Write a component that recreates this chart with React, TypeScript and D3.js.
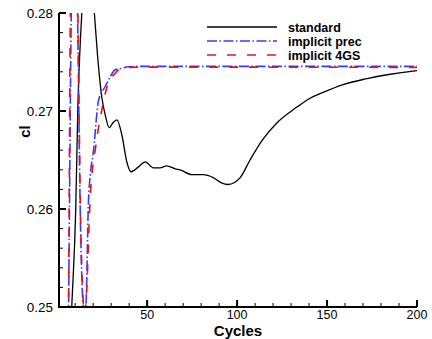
import React from 'react';
import * as d3 from 'd3';

// [cycle, cl]
const standard: [number, number][] = [
  [1, 0.2], [5, 0.235], [8.1, 0.25], [10.3, 0.26], [11.5, 0.2706], [13.7, 0.2801],
  [17, 0.2905], [20.6, 0.2801], [22.5, 0.2755], [24.8, 0.2714], [26.7, 0.2696],
  [28.9, 0.2683], [31, 0.2688], [33.2, 0.2691], [35.9, 0.2676], [38.7, 0.2648],
  [41.1, 0.2638], [45.2, 0.2643], [48.9, 0.2648], [53.5, 0.2642], [57, 0.2642],
  [60.9, 0.2644], [65.6, 0.2641], [68.3, 0.264], [74.8, 0.2635], [81.1, 0.2635],
  [86.7, 0.2632], [91, 0.2627], [95, 0.2625], [98.5, 0.2627], [101.7, 0.2632],
  [107.2, 0.265], [113.9, 0.267], [122.2, 0.2688], [133.3, 0.2704], [140.6, 0.2713],
  [147.8, 0.2719], [158.9, 0.2727], [172.2, 0.2733], [183.3, 0.2737], [198.9, 0.2741],
  [200, 0.27412],
];

const implicitPrec: [number, number][] = [
  [1, 0.2], [5, 0.235], [6.3, 0.25], [7.8, 0.28], [9.5, 0.295], [11.3, 0.28],
  [12.8, 0.26], [14, 0.2515], [15, 0.2495], [15.9, 0.25], [17.4, 0.2609],
  [18.3, 0.2633], [20.2, 0.266], [23, 0.2711], [26.7, 0.2725], [29.5, 0.2735],
  [32.2, 0.2742], [35.9, 0.27436], [39.4, 0.27452], [45, 0.27455], [200, 0.27455],
];

const implicit4GS: [number, number][] = [
  [1, 0.2], [5, 0.235], [6.3, 0.25], [7.3, 0.28], [9.3, 0.295], [11.5, 0.28],
  [12.9, 0.26], [14.2, 0.2515], [15.3, 0.2493], [16.1, 0.2507], [18.3, 0.2609],
  [21.5, 0.2665], [24.8, 0.2701], [26.7, 0.2718], [28.5, 0.2729], [32, 0.2738],
  [35.9, 0.27439], [45, 0.27448], [200, 0.27445],
];

const xMajor = [50, 100, 150, 200];
const xMinor = d3.range(10, 201, 10);
const yMajor = [0.25, 0.26, 0.27, 0.28];
const yMinor = d3.range(0, 16).map(i => 0.25 + i * 0.002);

const legendLabels = ['standard', 'implicit prec', 'implicit 4GS'];

const W = 432;
const H = 339;
const font = 'Liberation Sans, Arial, Helvetica, sans-serif';

export default function App() {
  const x = d3.scaleLinear().domain([1, 200]).range([59, 417]);
  const y = d3.scaleLinear().domain([0.25, 0.28]).range([307, 13]);

  const line = d3.line<[number, number]>()
    .x(d => x(d[0]))
    .y(d => y(d[1]))
    .curve(d3.curveMonotoneX);

  const series = [
    { data: standard, color: '#000', dash: 'none', width: 1.3 },
    { data: implicitPrec, color: '#3a3aff', dash: '10,2.5,1.5,2.5', width: 1.6 },
    { data: implicit4GS, color: '#e0141e', dash: '9,11', width: 1.6 },
  ];

  const [x0, x1] = x.range();
  const [y0, y1] = y.range();

  return (
    <svg width={W} height={H} style={{ position: 'absolute', left: 0, top: 0, background: '#fff' }}>
      <defs>
        <clipPath id="plot">
          <rect x={x0} y={y1} width={x1 - x0 + 1} height={y0 - y1} />
        </clipPath>
      </defs>

      <g clipPath="url(#plot)">
        {series.map((s, i) => (
          <path key={i} d={line(s.data) || ''} fill="none" stroke={s.color}
            strokeWidth={s.width} strokeDasharray={s.dash} />
        ))}
      </g>

      {/* axes */}
      <line x1={x0} x2={x1} y1={y0} y2={y0} stroke="#000" strokeWidth={2} />
      <line x1={x0} x2={x0} y1={y0 + 1} y2={y1} stroke="#000" strokeWidth={2} />

      {xMinor.map(t => (
        <line key={'xm' + t} x1={x(t)} x2={x(t)} y1={y0} y2={y0 - 4} stroke="#000" strokeWidth={1} />
      ))}
      {xMajor.map(t => (
        <g key={'xM' + t}>
          <line x1={x(t)} x2={x(t)} y1={y0} y2={y0 - 7} stroke="#000" strokeWidth={2} />
          <text x={x(t)} y={y0 + 12} textAnchor="middle" fontFamily={font} fontSize={12.5}>{t}</text>
        </g>
      ))}

      {yMinor.map(t => (
        <line key={'ym' + t} x1={x0} x2={x0 + 4} y1={y(t)} y2={y(t)} stroke="#000" strokeWidth={1} />
      ))}
      {yMajor.map(t => (
        <g key={'yM' + t}>
          <line x1={x0} x2={x0 + 7} y1={y(t)} y2={y(t)} stroke="#000" strokeWidth={2} />
          <text x={x0 - 6} y={y(t) + 5} textAnchor="end" fontFamily={font} fontSize={13.5}>{d3.format('.2f')(t)}</text>
        </g>
      ))}

      <text x={(x0 + x1) / 2} y={335.5} textAnchor="middle" fontFamily={font} fontSize={15} fontWeight="bold">Cycles</text>
      <text transform={`translate(30,${y(0.2679)}) rotate(-90)`} textAnchor="middle" fontFamily={font} fontSize={15} fontWeight="bold">cl</text>

      {/* legend */}
      {series.map((s, i) => (
        <g key={'lg' + i} transform={`translate(207,${27 + i * 14})`}>
          <line x1={0} x2={70} y1={0} y2={0} stroke={s.color} strokeWidth={s.width} strokeDasharray={s.dash} />
          <text x={81} y={4.5} fontFamily={font} fontSize={12.5} fontWeight="bold">{legendLabels[i]}</text>
        </g>
      ))}
    </svg>
  );
}
